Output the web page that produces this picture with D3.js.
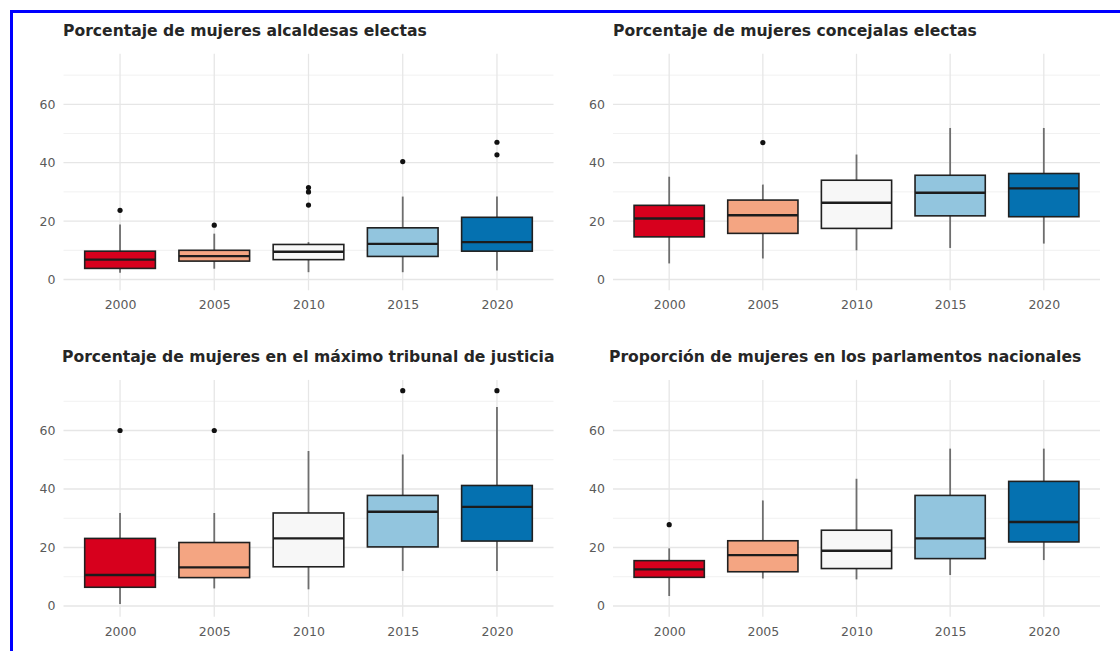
<!DOCTYPE html>
<html>
<head>
<meta charset="utf-8">
<script src="https://cdn.jsdelivr.net/npm/d3@7/dist/d3.min.js"></script>
<style>
  html, body { margin: 0; padding: 0; background: #ffffff; }
  svg { display: block; }
</style>
</head>
<body>
<svg id="chart" width="1120" height="651"></svg>
<script>
// Years on the x axis
const years = ["2000", "2005", "2010", "2015", "2020"];
const yTicks = [0, 20, 40, 60];
const yMinor = [10, 30, 50, 70];
const boxFills = ["#d7001d", "#f4a582", "#f7f7f7", "#92c5de", "#0571b0"];

// Mujeres alcaldesas electas (%)
const alcLow     = [2.3, 3.7, 2.5, 2.5, 3.1];
const alcQ1      = [3.8, 6.3, 6.8, 7.9, 9.7];
const alcMedian  = [6.8, 8.0, 9.5, 12.2, 12.8];
const alcQ3      = [9.7, 10.0, 12.0, 17.7, 21.3];
const alcHigh    = [18.8, 15.7, 12.8, 28.4, 28.4];
const alcOutliers = [[23.7], [18.6], [25.5, 30.0, 31.5], [40.4], [42.7, 47.0]];

// Mujeres concejalas electas (%)
const conLow     = [5.5, 7.2, 10.0, 10.8, 12.3];
const conQ1      = [14.6, 15.8, 17.5, 21.8, 21.5];
const conMedian  = [20.9, 22.0, 26.3, 29.7, 31.2];
const conQ3      = [25.4, 27.2, 34.0, 35.7, 36.3];
const conHigh    = [35.2, 32.5, 42.8, 51.9, 51.9];
const conOutliers = [[], [46.9], [], [], []];

// Mujeres en el máximo tribunal de justicia (%)
const triLow     = [0.7, 6.0, 5.7, 12.0, 12.0];
const triQ1      = [6.4, 9.7, 13.4, 20.2, 22.2];
const triMedian  = [10.6, 13.2, 23.1, 32.2, 33.9];
const triQ3      = [23.1, 21.7, 31.8, 37.8, 41.2];
const triHigh    = [31.8, 31.8, 53.0, 51.8, 68.0];
const triOutliers = [[60.0], [60.0], [], [73.6], [73.6]];

// Mujeres en los parlamentos nacionales (%)
const parLow     = [3.4, 9.4, 9.1, 10.6, 15.7];
const parQ1      = [9.8, 11.7, 12.8, 16.2, 21.9];
const parMedian  = [12.5, 17.4, 18.9, 23.1, 28.7];
const parQ3      = [15.5, 22.3, 25.9, 37.8, 42.6];
const parHigh    = [19.7, 36.1, 43.5, 53.8, 53.8];
const parOutliers = [[27.8], [], [], [], []];

const titles = [
  "Porcentaje de mujeres alcaldesas electas",
  "Porcentaje de mujeres concejalas electas",
  "Porcentaje de mujeres en el máximo tribunal de justicia",
  "Proporción de mujeres en los parlamentos nacionales"
];

function series(low, q1, med, q3, high, outliers) {
  return years.map((y, i) => ({
    year: y, low: low[i], q1: q1[i], median: med[i], q3: q3[i], high: high[i],
    outliers: outliers[i], fill: boxFills[i]
  }));
}

const panelData = [
  series(alcLow, alcQ1, alcMedian, alcQ3, alcHigh, alcOutliers),
  series(conLow, conQ1, conMedian, conQ3, conHigh, conOutliers),
  series(triLow, triQ1, triMedian, triQ3, triHigh, triOutliers),
  series(parLow, parQ1, parMedian, parQ3, parHigh, parOutliers)
];

// Plot rectangles of the 2x2 grid
const layout = [
  { left: 63.5, right: 553.5, top: 53.8, bottom: 290.3, titleX: 63, titleY: 36 },
  { left: 613,  right: 1100,  top: 53.8, bottom: 290.3, titleX: 613, titleY: 36 },
  { left: 63.5, right: 553.5, top: 379.9, bottom: 616.8, titleX: 62, titleY: 362 },
  { left: 613,  right: 1100,  top: 379.9, bottom: 616.8, titleX: 609, titleY: 362 }
];

const svg = d3.select("#chart");
const fontFamily = "'DejaVu Sans', sans-serif";

// Outer frame
svg.append("path")
  .attr("d", "M11.5,651 L11.5,11.5 L1120,11.5")
  .attr("fill", "none")
  .attr("stroke", "#0000ff")
  .attr("stroke-width", 3);

panelData.forEach((data, p) => {
  const L = layout[p];
  const g = svg.append("g");

  const x = d3.scalePoint().domain(years).range([L.left, L.right]).padding(0.6);
  const y = d3.scaleLinear().domain([-3.7, 77.3]).range([L.bottom, L.top]);
  const boxW = x.step() * 0.75;

  // Grid
  g.selectAll(".minor").data(yMinor).join("line")
    .attr("x1", L.left).attr("x2", L.right)
    .attr("y1", d => y(d)).attr("y2", d => y(d))
    .attr("stroke", "#f1f1f1").attr("stroke-width", 1);
  g.selectAll(".major").data(yTicks).join("line")
    .attr("x1", L.left).attr("x2", L.right)
    .attr("y1", d => y(d)).attr("y2", d => y(d))
    .attr("stroke", "#e6e6e6").attr("stroke-width", 1.3);
  g.selectAll(".vgrid").data(years).join("line")
    .attr("x1", d => x(d)).attr("x2", d => x(d))
    .attr("y1", L.top).attr("y2", L.bottom)
    .attr("stroke", "#e6e6e6").attr("stroke-width", 1.3);

  // Axes (labels only)
  const yAxis = d3.axisLeft(y).tickValues(yTicks).tickSize(0).tickPadding(8);
  const ya = g.append("g").attr("transform", `translate(${L.left},0)`).call(yAxis);
  const xAxis = d3.axisBottom(x).tickSize(0).tickPadding(10);
  const xa = g.append("g").attr("transform", `translate(0,${L.bottom})`).call(xAxis);
  [ya, xa].forEach(a => {
    a.select(".domain").remove();
    a.selectAll("text")
      .attr("font-family", fontFamily)
      .attr("font-size", 12.5)
      .attr("fill", "#5a5a5a");
  });

  // Whiskers
  g.selectAll(".whisker").data(data).join("line")
    .attr("x1", d => x(d.year)).attr("x2", d => x(d.year))
    .attr("y1", d => y(d.low)).attr("y2", d => y(d.high))
    .attr("stroke", "#6e6e6e").attr("stroke-width", 1.8);

  // Boxes
  g.selectAll(".box").data(data).join("rect")
    .attr("x", d => x(d.year) - boxW / 2)
    .attr("width", boxW)
    .attr("y", d => y(d.q3))
    .attr("height", d => y(d.q1) - y(d.q3))
    .attr("fill", d => d.fill)
    .attr("stroke", "#202020")
    .attr("stroke-width", 1.6);

  // Medians
  g.selectAll(".median").data(data).join("line")
    .attr("x1", d => x(d.year) - boxW / 2).attr("x2", d => x(d.year) + boxW / 2)
    .attr("y1", d => y(d.median)).attr("y2", d => y(d.median))
    .attr("stroke", "#1c1c1c").attr("stroke-width", 2.4);

  // Outliers
  const pts = data.flatMap(d => d.outliers.map(v => ({ year: d.year, v })));
  g.selectAll(".outlier").data(pts).join("circle")
    .attr("cx", d => x(d.year)).attr("cy", d => y(d.v))
    .attr("r", 2.6).attr("fill", "#111");

  // Panel title
  g.append("text")
    .attr("x", L.titleX).attr("y", L.titleY)
    .attr("font-family", fontFamily)
    .attr("font-size", 15.6)
    .attr("font-weight", "bold")
    .attr("fill", "#262626")
    .text(titles[p]);
});
</script>
</body>
</html>
